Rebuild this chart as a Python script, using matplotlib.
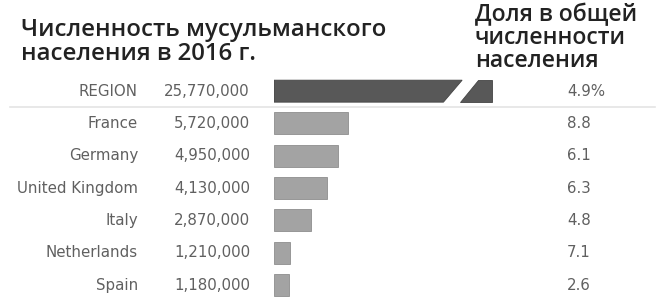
import matplotlib
matplotlib.use("Agg")
import matplotlib.pyplot as plt
from matplotlib.transforms import blended_transform_factory
from matplotlib.patches import Polygon

countries = ["REGION", "France", "Germany", "United Kingdom", "Italy", "Netherlands", "Spain"]
muslim_pop = [25770000, 5720000, 4950000, 4130000, 2870000, 1210000, 1180000]
share_labels = ["4.9%", "8.8", "6.1", "6.3", "4.8", "7.1", "2.6"]
title_left = "Численность мусульманского\nнаселения в 2016 г."
title_right = "Доля в общей\nчисленности\nнаселения"

W, H = 667, 299
fig = plt.figure(figsize=(W / 100, H / 100), dpi=100)
fig.patch.set_facecolor("white")

# bar axes: left at 274px, width 230px, rows from y=75 to 299px
ax_left, ax_w = 274, 230
px_per_m = 12.9
ax = fig.add_axes([ax_left / W, 0, ax_w / W, 224 / H])
ax.set_xlim(0, ax_w / px_per_m)
ax.set_ylim(6.43, -0.5)
ax.axis("off")

vals_m = [v / 1e6 for v in muslim_pop]
bh = 0.68
light = "#a3a3a3"
dark = "#585858"

for i, v in enumerate(vals_m):
    if i == 0:
        continue
    ax.barh(i, v, height=bh, color=light, edgecolor="#8e8e8e", linewidth=0.6)

# Region bar, broken (value exceeds the visible scale)
xmax = ax.get_xlim()[1]
end = xmax * 0.947
b1 = end - 2.3  # top of first slant
s = 1.45         # slant horizontal extent
g = 1.25         # gap
y0, y1 = -bh / 2, bh / 2
p1 = Polygon([(0, y0), (b1, y0), (b1 - s, y1), (0, y1)], closed=True,
             facecolor=dark, edgecolor="#444444", linewidth=0.6)
p2 = Polygon([(b1 + g, y0), (end, y0), (end, y1), (b1 + g - s, y1)], closed=True,
             facecolor=dark, edgecolor="#444444", linewidth=0.6)
ax.add_patch(p1)
ax.add_patch(p2)

tr = blended_transform_factory(fig.transFigure, ax.transData)
lab_font = dict(family="DejaVu Sans", fontsize=10.8, color="#606060", va="center")
for i, (c, v, s_) in enumerate(zip(countries, muslim_pop, share_labels)):
    ax.text(138 / W, i, c, ha="right", transform=tr, **lab_font)
    ax.text(250 / W, i, f"{v:,}", ha="right", transform=tr, **lab_font)
    ax.text(567 / W, i, s_, ha="left", transform=tr, **lab_font)

# separator line under REGION row
fig.add_artist(plt.Line2D([10 / W, 655 / W], [1 - 107 / H, 1 - 107 / H],
                          color="#e4e4e4", linewidth=1.2))

fig.text(21 / W, 1 - 18 / H, title_left, ha="left", va="top",
         family="Open Sans", fontweight="semibold", fontsize=17.3,
         color="#222222", linespacing=1.0)
fig.text(475 / W, 1 - 3 / H, title_right, ha="left", va="top",
         family="Open Sans", fontweight="semibold", fontsize=16.6,
         color="#222222", linespacing=0.95)

fig.savefig("out.png", dpi=100, facecolor="white")
